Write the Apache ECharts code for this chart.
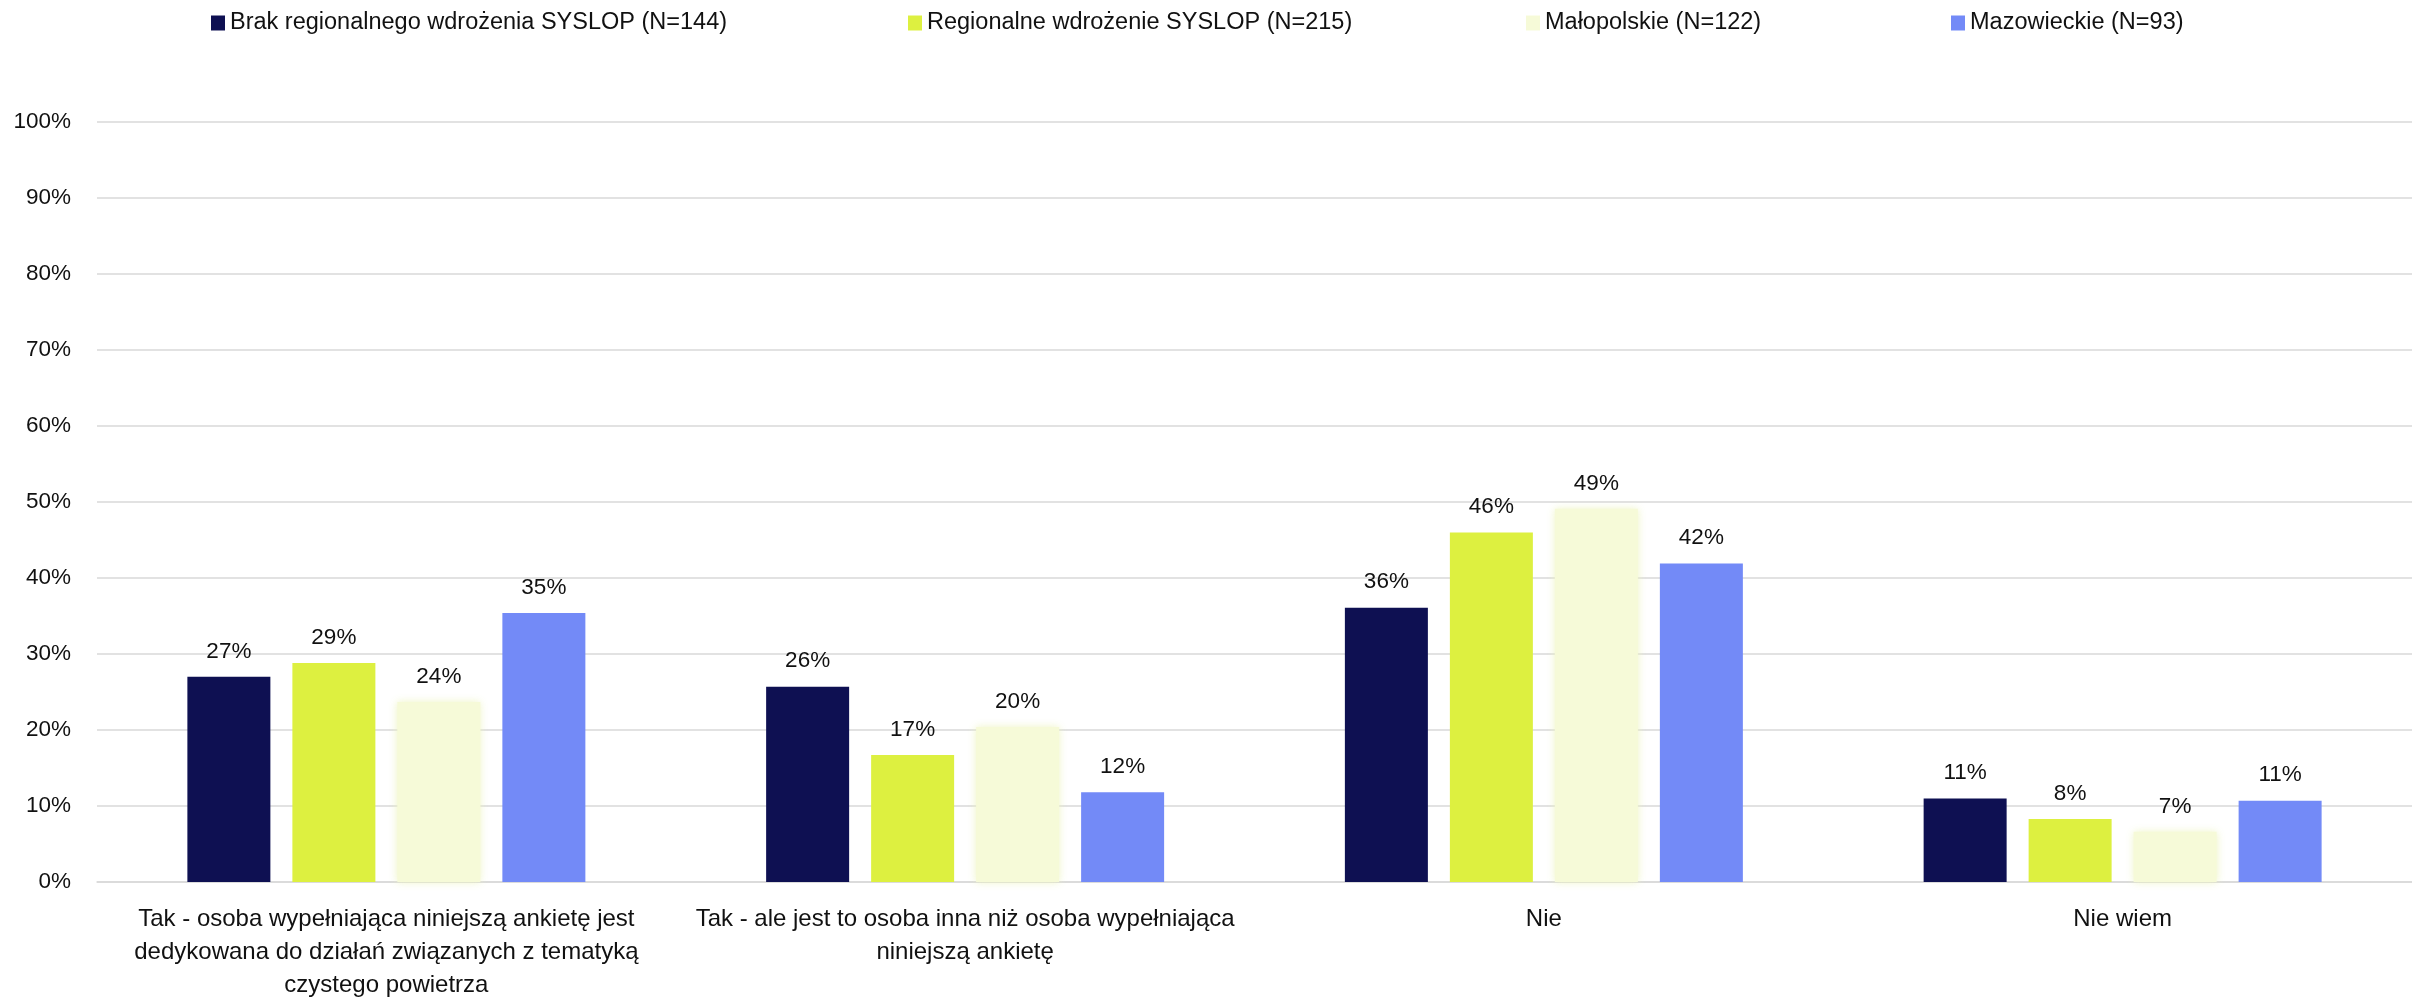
<!DOCTYPE html>
<html>
<head>
<meta charset="utf-8">
<script src="https://cdn.jsdelivr.net/npm/echarts@6/dist/echarts.min.js"></script>
<style>
html,body{margin:0;padding:0;background:#fff;}
#chart{width:2412px;height:1002px;}
</style>
</head>
<body>
<div id="chart"></div>
<script>
const categories = [
  "Tak - osoba wypełniająca niniejszą ankietę jest\ndedykowana do działań związanych z tematyką\nczystego powietrza",
  "Tak - ale jest to osoba inna niż osoba wypełniająca\nniniejszą ankietę",
  "Nie",
  "Nie wiem"
];
const seriesNames = [
  "Brak regionalnego wdrożenia SYSLOP (N=144)",
  "Regionalne wdrożenie SYSLOP (N=215)",
  "Małopolskie (N=122)",
  "Mazowieckie (N=93)"
];
const brakValues = [27.0, 25.7, 36.1, 11.0];
const regionalneValues = [28.8, 16.7, 46.0, 8.3];
const malopolskieValues = [23.7, 20.4, 49.1, 6.6];
const mazowieckieValues = [35.4, 11.8, 41.9, 10.7];
const yTicks = [0, 10, 20, 30, 40, 50, 60, 70, 80, 90, 100];

const colors = ["#0e1052", "#ddf040", "#f6fad8", "#738af7"];
const allValues = [brakValues, regionalneValues, malopolskieValues, mazowieckieValues];
const FONT = "'Liberation Sans', Arial, sans-serif";
const legendLefts = [211, 908, 1526, 1951];

const chart = echarts.init(document.getElementById('chart'), null, {renderer: 'canvas'});

const series = seriesNames.map((name, i) => ({
  name: name,
  type: 'bar',
  data: allValues[i],
  barWidth: 83,
  barGap: '26.5%',
  itemStyle: Object.assign({color: colors[i]}, i === 2 ? {shadowColor: 'rgba(236,244,190,0.9)', shadowBlur: 8} : {}),
  label: {
    show: true,
    position: 'top',
    distance: 14,
    color: '#111',
    fontFamily: FONT,
    fontSize: 22.5,
    formatter: p => Math.round(p.value) + '%'
  },
  emphasis: {disabled: true}
}));

const legends = seriesNames.map((name, i) => ({
  data: [name],
  left: legendLefts[i],
  top: 11,
  padding: 0,
  itemWidth: 14,
  itemHeight: 15,
  icon: 'rect',
  selectedMode: false,
  textStyle: {color: '#111', fontFamily: FONT, fontSize: 23.5}
}));

chart.setOption({
  animation: false,
  backgroundColor: '#fff',
  color: colors,
  legend: legends,
  grid: {left: 97, width: 2325, top: 122, height: 767, containLabel: false},
  xAxis: {
    type: 'category',
    data: categories,
    axisTick: {show: false},
    axisLine: {show: true, lineStyle: {color: '#d9d9d9', width: 1.5}},
    axisLabel: {
      color: '#111',
      fontFamily: FONT,
      fontSize: 24,
      lineHeight: 33,
      margin: 21,
      interval: 0,
      align: 'center'
    }
  },
  yAxis: {
    type: 'value',
    min: yTicks[0],
    max: yTicks[yTicks.length - 1],
    interval: 10,
    axisLine: {show: false},
    axisTick: {show: false},
    splitLine: {lineStyle: {color: '#d9d9d9', width: 1.5}},
    axisLabel: {
      color: '#111',
      fontFamily: FONT,
      fontSize: 22.5,
      margin: 26,
      formatter: v => v + '%'
    }
  },
  series: series
});
</script>
</body>
</html>
